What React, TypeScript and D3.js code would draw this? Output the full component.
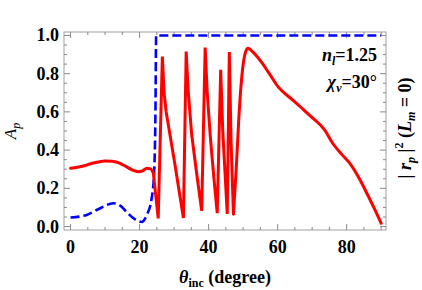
import React from 'react';
import * as d3 from 'd3';

// red: |r_p|^2 (L_m = 0)
const redDeg = [0, 2, 4, 6, 8, 10, 12, 14, 16, 18, 19.5, 21, 22.1, 23.2, 24.0, 25.4, 26.6, 27.1, 27.7, 30.2, 32.7, 33.5, 34.1, 35.1, 36.6, 38.0, 39.0, 39.6, 40.5, 41.5, 42.5, 43.5, 44.1, 45.4, 46.0, 46.5, 47.2, 48.0, 48.8, 49.6, 50.5, 51.4, 53.0, 55.2, 57.6, 60.1, 62.5, 64.9, 67.3, 69.7, 73.6, 76.1, 78.7, 81.3, 83.7, 86.1, 88.0, 90];
const redVal = [0.305, 0.31, 0.318, 0.33, 0.338, 0.343, 0.342, 0.333, 0.315, 0.295, 0.287, 0.293, 0.305, 0.302, 0.279, 0.043, 0.89, 0.70, 0.60, 0.33, 0.045, 0.916, 0.706, 0.48, 0.27, 0.082, 0.937, 0.70, 0.47, 0.26, 0.07, 0.82, 0.5, 0.066, 0.913, 0.45, 0.066, 0.30, 0.58, 0.78, 0.9, 0.933, 0.91, 0.863, 0.8, 0.732, 0.69, 0.654, 0.615, 0.575, 0.506, 0.432, 0.375, 0.322, 0.25, 0.165, 0.095, 0.017];

// blue dashed: A_p
const blueDeg = [0, 2.5, 4.7, 8.6, 12.4, 14.5, 16.3, 18.5, 20.6, 22.1, 23.5, 24.2, 24.6, 24.8, 90];
const blueVal = [0.047, 0.052, 0.061, 0.096, 0.122, 0.108, 0.075, 0.04, 0.024, 0.061, 0.148, 0.279, 0.6, 1.0, 1.0];

const xTickLabels = [0, 20, 40, 60, 80];
const yTickLabels = [0.0, 0.2, 0.4, 0.6, 0.8, 1.0];

// the oscillating stretch is drawn with straight segments, the rest smoothed
const spikeFrom = 24.0;
const spikeTo = 47.2;

const W = 422;
const H = 290;
const left = 64, right = 386, top = 32, bottom = 230;

const serif = '"Liberation Serif", "DejaVu Serif", serif';

export default function App() {
  const x = d3.scaleLinear().domain([-1.9, 91.4]).range([left, right]);
  const y = d3.scaleLinear().domain([-0.018, 1.018]).range([bottom, top]);

  const red = redDeg.map((d, i) => [d, redVal[i]] as [number, number]);
  const blue = blueDeg.map((d, i) => [d, blueVal[i]] as [number, number]);

  const smooth = d3.line<[number, number]>()
    .x(d => x(d[0]))
    .y(d => y(d[1]))
    .curve(d3.curveMonotoneX);
  const straight = d3.line<[number, number]>()
    .x(d => x(d[0]))
    .y(d => y(d[1]));

  const redA = red.filter(d => d[0] <= spikeFrom);
  const redB = red.filter(d => d[0] >= spikeFrom && d[0] <= spikeTo);
  const redC = red.filter(d => d[0] >= spikeTo);

  const xMinor = d3.range(0, 91, 5);
  const yMinor = d3.range(0, 1.001, 0.05);
  const tickCol = '#8a8a8a';

  return (
    <svg width={W} height={H} style={{ position: 'absolute', left: 0, top: 0, background: '#fff' }} fontFamily={serif}>
      {/* frame */}
      <rect x={left} y={top} width={right - left} height={bottom - top} fill="none" stroke="#a0a0a0" strokeWidth={1} />

      {/* x ticks, bottom and top */}
      {xMinor.map(t => {
        const len = t % 20 === 0 ? 6 : 3;
        return (
          <g key={'xt' + t} stroke={tickCol} strokeWidth={1}>
            <line x1={x(t)} x2={x(t)} y1={bottom} y2={bottom - len} />
            <line x1={x(t)} x2={x(t)} y1={top} y2={top + len} />
          </g>
        );
      })}
      {/* y ticks, left and right */}
      {yMinor.map((t, i) => {
        const len = i % 4 === 0 ? 6 : 3;
        return (
          <g key={'yt' + i} stroke={tickCol} strokeWidth={1}>
            <line x1={left} x2={left + len} y1={y(t)} y2={y(t)} />
            <line x1={right} x2={right - len} y1={y(t)} y2={y(t)} />
          </g>
        );
      })}

      {xTickLabels.map(t => (
        <text key={'xl' + t} x={x(t)} y={253} textAnchor="middle" fontSize={18} fontWeight="bold">{t}</text>
      ))}
      {yTickLabels.map(t => (
        <text key={'yl' + t} x={59} y={y(t) + 6} textAnchor="end" fontSize={18} fontWeight="bold">{t.toFixed(1)}</text>
      ))}

      {/* curves */}
      <path d={smooth(blue) ?? ''} fill="none" stroke="#0000ff" strokeWidth={2.6} strokeDasharray="9,4" />
      <g fill="none" stroke="#ff0000" strokeWidth={3} strokeLinejoin="round" strokeLinecap="round">
        <path d={smooth(redA) ?? ''} />
        <path d={straight(redB) ?? ''} strokeLinejoin="miter" strokeMiterlimit={3} />
        <path d={smooth(redC) ?? ''} />
      </g>

      {/* annotations */}
      <text x={377} y={61} textAnchor="end" fontSize={18} fontWeight="bold">
        <tspan fontStyle="italic">n</tspan>
        <tspan fontSize={12} fontStyle="italic" dy={4}>l</tspan>
        <tspan dy={-4}>=1.25</tspan>
      </text>
      <text x={377} y={88} textAnchor="end" fontSize={18} fontWeight="bold">
        <tspan fontStyle="italic">χ</tspan>
        <tspan fontSize={12} fontStyle="italic" dy={4}>v</tspan>
        <tspan dy={-4}>=30°</tspan>
      </text>

      {/* axis labels */}
      <text transform={`translate(16,${(top + bottom) / 2}) rotate(-90)`} textAnchor="middle" fontSize={17} fontStyle="italic">
        A<tspan fontSize={12} dy={4}>p</tspan>
      </text>
      <text x={(left + right) / 2} y={283} textAnchor="middle" fontSize={18} fontWeight="bold">
        <tspan fontStyle="italic">θ</tspan>
        <tspan fontSize={12} dy={4}>inc</tspan>
        <tspan dy={-4}> (degree)</tspan>
      </text>
      <text transform={`translate(411,${(top + bottom) / 2 - 3}) rotate(-90)`} textAnchor="middle" fontSize={18} fontWeight="bold">
        {'| '}<tspan fontStyle="italic">r</tspan>
        <tspan fontSize={12} fontStyle="italic" dy={4}>p</tspan>
        <tspan dy={-4}>{' |'}</tspan>
        <tspan fontSize={12} dy={-8}>2</tspan>
        <tspan dy={8}> (</tspan>
        <tspan fontStyle="italic">L</tspan>
        <tspan fontSize={12} fontStyle="italic" dy={4}>m</tspan>
        <tspan dy={-4}> = 0)</tspan>
      </text>
    </svg>
  );
}
